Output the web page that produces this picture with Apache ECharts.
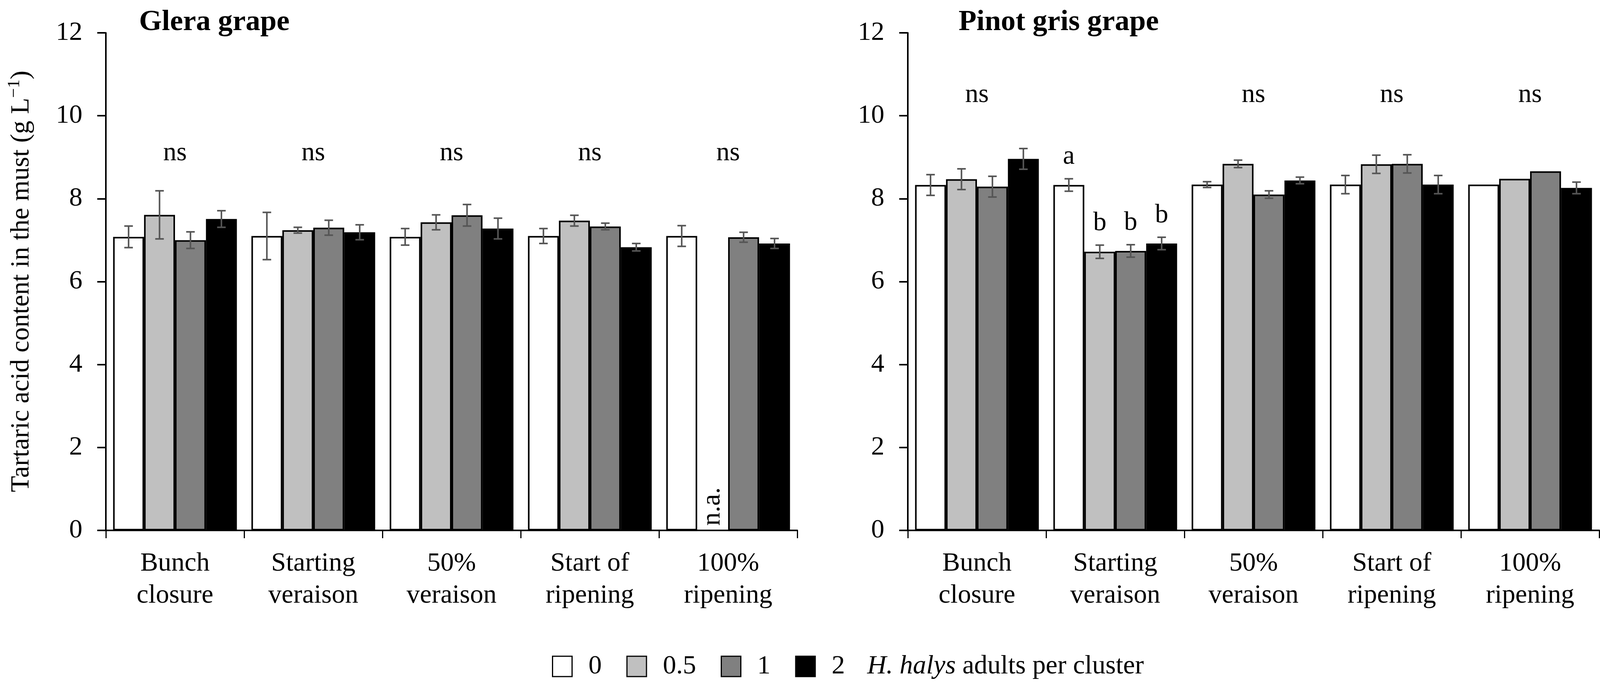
<!DOCTYPE html>
<html>
<head>
<meta charset="utf-8">
<script src="https://cdn.jsdelivr.net/npm/echarts@6/dist/echarts.min.js"></script>
<style>
  html, body { margin: 0; padding: 0; background: #fff; }
  #chart { width: 4117px; height: 1750px; }
</style>
</head>
<body>
<div id="chart"></div>
<script>
// ---------------- data ----------------
const categories = ['Bunch\nclosure', 'Starting\nveraison', '50%\nveraison', 'Start of\nripening', '100%\nripening'];
const seriesNames = ['0', '0.5', '1', '2'];
const yTicks = [0, 2, 4, 6, 8, 10, 12];

// Glera grape (mean ± error)
const glera0     = [7.08, 7.10, 7.08, 7.10, 7.10];
const glera0Err  = [0.26, 0.57, 0.20, 0.18, 0.25];
const glera05    = [7.61, 7.24, 7.43, 7.47, null];
const glera05Err = [0.58, 0.07, 0.18, 0.13, null];
const glera1     = [7.00, 7.30, 7.60, 7.33, 7.07];
const glera1Err  = [0.20, 0.18, 0.26, 0.08, 0.12];
const glera2     = [7.51, 7.19, 7.28, 6.83, 6.92];
const glera2Err  = [0.20, 0.18, 0.25, 0.09, 0.12];

// Pinot gris grape (mean ± error)
const pinot0     = [8.33, 8.33, 8.34, 8.34, 8.34];
const pinot0Err  = [0.25, 0.15, 0.07, 0.22, null];
const pinot05    = [8.47, 6.72, 8.84, 8.83, 8.48];
const pinot05Err = [0.25, 0.16, 0.09, 0.22, null];
const pinot1     = [8.29, 6.74, 8.10, 8.84, 8.66];
const pinot1Err  = [0.25, 0.15, 0.09, 0.22, null];
const pinot2     = [8.96, 6.92, 8.44, 8.34, 8.26];
const pinot2Err  = [0.25, 0.15, 0.08, 0.22, 0.14];

// significance annotations
const gleraSig = ['ns', 'ns', 'ns', 'ns', 'ns'];
const pinotSig = ['ns', '', 'ns', 'ns', 'ns'];
const pinotLetters = [ // [category index, series index, letter]
  [1, 0, 'a'], [1, 1, 'b'], [1, 2, 'b'], [1, 3, 'b']
];
const gleraNA = [[4, 1, 'n.a.']];

// ---------------- styling ----------------
const FONT = "'Liberation Serif','Times New Roman',serif";
const FS = 68;
const colors = ['#ffffff', '#c0c0c0', '#808080', '#000000'];
const GAP = 0.105;
const ERR_COLOR = '#555555';

const gleraVals = [glera0, glera05, glera1, glera2];
const gleraErrs = [glera0Err, glera05Err, glera1Err, glera2Err];
const pinotVals = [pinot0, pinot05, pinot1, pinot2];
const pinotErrs = [pinot0Err, pinot05Err, pinot1Err, pinot2Err];

function xAxisFor(gi) {
  return {
    type: 'category', gridIndex: gi, data: categories,
    axisLine: { show: true, lineStyle: { color: '#000', width: 4 } },
    axisTick: { show: true, length: 20, lineStyle: { color: '#000', width: 3 } },
    axisLabel: { interval: 0, color: '#000', fontFamily: FONT, fontSize: FS, lineHeight: 82, margin: 44 },
    splitLine: { show: false }
  };
}
function yAxisFor(gi) {
  return {
    type: 'value', gridIndex: gi, min: yTicks[0], max: yTicks[yTicks.length - 1], interval: yTicks[1] - yTicks[0],
    axisLine: { show: true, lineStyle: { color: '#000', width: 4 } },
    axisTick: { show: true, length: 22, lineStyle: { color: '#000', width: 4 } },
    axisLabel: { color: '#000', fontFamily: FONT, fontSize: FS, margin: 60 },
    splitLine: { show: false }
  };
}

function barSeries(gi, vals) {
  return vals.map((arr, s) => ({
    name: seriesNames[s], type: 'bar', xAxisIndex: gi, yAxisIndex: gi,
    data: arr, barGap: '0%', barCategoryGap: (GAP * 100) + '%',
    itemStyle: { color: colors[s], borderColor: '#000', borderWidth: 4 },
    emphasis: { disabled: true }, animation: false, z: 2
  }));
}

function barCenterX(api, cat, s) {
  const band = api.size([1, 0])[0];
  const bw = band * (1 - GAP) / 4;
  return api.coord([cat, 0])[0] + (s - 1.5) * bw;
}

function errSeries(gi, vals, errs) {
  const data = [];
  vals.forEach((arr, s) => arr.forEach((v, c) => {
    if (v != null && errs[s][c] != null) data.push([c, s, v, errs[s][c]]);
  }));
  return {
    type: 'custom', xAxisIndex: gi, yAxisIndex: gi, z: 5, clip: false, animation: false,
    encode: { x: 0, y: 2 },
    data: data,
    renderItem: function (params, api) {
      const c = api.value(0), s = api.value(1), v = api.value(2), e = api.value(3);
      const x = barCenterX(api, c, s);
      const yT = api.coord([c, v + e])[1];
      const yB = api.coord([c, v - e])[1];
      const cap = 11;
      const st = { stroke: ERR_COLOR, lineWidth: 4 };
      return {
        type: 'group', children: [
          { type: 'line', shape: { x1: x, y1: yT, x2: x, y2: yB }, style: st },
          { type: 'line', shape: { x1: x - cap, y1: yT, x2: x + cap, y2: yT }, style: st },
          { type: 'line', shape: { x1: x - cap, y1: yB, x2: x + cap, y2: yB }, style: st }
        ]
      };
    }
  };
}

function nsSeries(gi, labels, yVal) {
  const data = labels.map((t, c) => [c, yVal]);
  return {
    type: 'custom', xAxisIndex: gi, yAxisIndex: gi, z: 6, clip: false, animation: false, silent: true,
    encode: { x: 0, y: 1 }, data: data,
    renderItem: function (params, api) {
      const t = labels[params.dataIndex];
      if (!t) return;
      const p = api.coord([api.value(0), api.value(1)]);
      return { type: 'text', x: p[0], y: p[1],
        style: { text: t, fill: '#000', font: FS + 'px ' + FONT, align: 'center', verticalAlign: 'middle' } };
    }
  };
}

function letterSeries(gi, items, vals, errs) {
  const data = items.map(it => [it[0], it[1], vals[it[1]][it[0]] + (errs[it[1]][it[0]] || 0)]);
  return {
    type: 'custom', xAxisIndex: gi, yAxisIndex: gi, z: 6, clip: false, animation: false, silent: true,
    encode: { x: 0, y: 2 }, data: data,
    renderItem: function (params, api) {
      const c = api.value(0), s = api.value(1), top = api.value(2);
      const x = barCenterX(api, c, s);
      const y = api.coord([c, top])[1] - 22;
      return { type: 'text', x: x, y: y,
        style: { text: items[params.dataIndex][2], fill: '#000', font: FS + 'px ' + FONT, align: 'center', verticalAlign: 'bottom' } };
    }
  };
}

function naSeries(gi, items) {
  return {
    type: 'custom', xAxisIndex: gi, yAxisIndex: gi, z: 6, clip: false, animation: false, silent: true,
    encode: { x: 0, y: 1 }, data: items.map(it => [it[0], it[1]]),
    renderItem: function (params, api) {
      const c = api.value(0), s = api.value(1);
      const x = barCenterX(api, c, s);
      const y = api.coord([c, 0])[1] - 12;
      return { type: 'text', x: x, y: y, rotation: Math.PI / 2,
        style: { text: items[params.dataIndex][2], fill: '#000', font: FS + 'px ' + FONT, align: 'left', verticalAlign: 'middle' } };
    }
  };
}

const chart = echarts.init(document.getElementById('chart'), null, { renderer: 'canvas' });

const option = {
  backgroundColor: '#ffffff',
  animation: false,
  grid: [
    { left: 271, top: 84, width: 1770, height: 1273 },
    { left: 2324, top: 84, width: 1770, height: 1273 }
  ],
  xAxis: [xAxisFor(0), xAxisFor(1)],
  yAxis: [yAxisFor(0), yAxisFor(1)],
  legend: {
    left: 1408, top: 1666, itemWidth: 50, itemHeight: 52, itemGap: 63, icon: 'rect',
    selectedMode: false,
    data: seriesNames.map((n, i) => ({ name: n, itemStyle: { color: colors[i], borderColor: '#000', borderWidth: 3 } })),
    textStyle: {
      color: '#000', fontFamily: FONT, fontSize: FS, padding: [0, 0, 0, 37],
      rich: {
        i: { fontStyle: 'italic', fontFamily: FONT, fontSize: FS, color: '#000', padding: [0, 0, 0, 57] },
        r: { fontFamily: FONT, fontSize: FS, color: '#000' }
      }
    },
    formatter: function (name) {
      return name === '2' ? '{r|2}{i|H. halys}{r| adults per cluster}' : name;
    }
  },
  graphic: [
    { type: 'text', left: 356, top: 20, style: { text: 'Glera grape', fill: '#000', font: 'bold 75px ' + FONT } },
    { type: 'text', left: 2454, top: 20, style: { text: 'Pinot gris grape', fill: '#000', font: 'bold 75px ' + FONT } },
    { type: 'text', x: 55, y: 720, rotation: Math.PI / 2,
      style: {
        text: '{n|Tartaric acid content in the must (g L}{s|\u22121}{n|)}',
        align: 'center', verticalAlign: 'middle',
        rich: {
          n: { fontFamily: FONT, fontSize: FS, fill: '#000', lineHeight: 80 },
          s: { fontFamily: FONT, fontSize: 44, fill: '#000', verticalAlign: 'top', lineHeight: 80 }
        }
      } }
  ],
  series: [].concat(
    barSeries(0, gleraVals),
    barSeries(1, pinotVals),
    [errSeries(0, gleraVals, gleraErrs), errSeries(1, pinotVals, pinotErrs),
     nsSeries(0, gleraSig, 9.1), nsSeries(1, pinotSig, 10.5),
     letterSeries(1, pinotLetters, pinotVals, pinotErrs),
     naSeries(0, gleraNA)]
  )
};
chart.setOption(option);
</script>
</body>
</html>
